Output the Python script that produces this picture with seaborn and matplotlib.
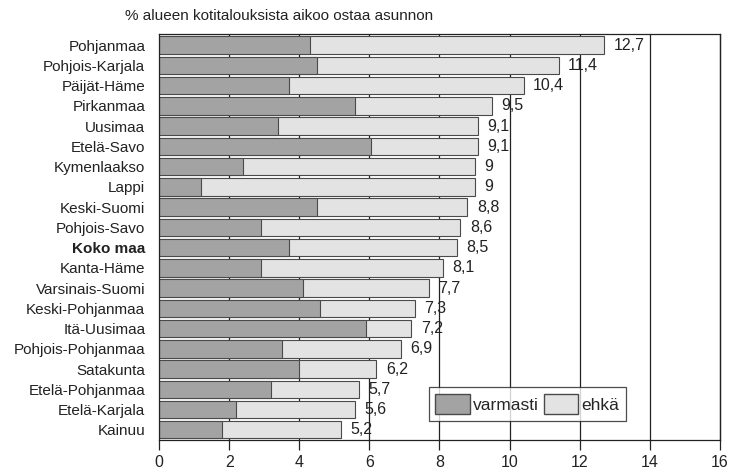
import matplotlib
matplotlib.use("Agg")
import matplotlib.pyplot as plt
from matplotlib.patches import Patch
import seaborn as sns
import pandas as pd

regions = ["Pohjanmaa", "Pohjois-Karjala", "Päijät-Häme", "Pirkanmaa", "Uusimaa",
           "Etelä-Savo", "Kymenlaakso", "Lappi", "Keski-Suomi", "Pohjois-Savo",
           "Koko maa", "Kanta-Häme", "Varsinais-Suomi", "Keski-Pohjanmaa",
           "Itä-Uusimaa", "Pohjois-Pohjanmaa", "Satakunta", "Etelä-Pohjanmaa",
           "Etelä-Karjala", "Kainuu"]
totals = [12.7, 11.4, 10.4, 9.5, 9.1, 9.1, 9.0, 9.0, 8.8, 8.6,
          8.5, 8.1, 7.7, 7.3, 7.2, 6.9, 6.2, 5.7, 5.6, 5.2]
varmasti = [4.3, 4.5, 3.7, 5.6, 3.4, 6.05, 2.4, 1.2, 4.5, 2.9,
            3.7, 2.9, 4.1, 4.6, 5.9, 3.5, 4.0, 3.2, 2.2, 1.8]
x_ticks = [0, 2, 4, 6, 8, 10, 12, 14, 16]
title = "% alueen kotitalouksista aikoo ostaa asunnon"

df = pd.DataFrame({"alue": regions, "yhteensä": totals, "varmasti": varmasti})

sns.set_theme(style="white")
plt.rcParams["font.family"] = ["Liberation Sans", "DejaVu Sans"]

dark = "#a3a3a3"
light = "#e3e3e3"
edge = "#4a4a4a"
ink = "#222222"

fig = plt.figure(figsize=(7.30, 4.72), dpi=100)
ax = fig.add_axes([0.218, 0.068, 0.768, 0.86])

ax.set_axisbelow(True)
for t in x_ticks[1:]:
    ax.axvline(t, color=ink, lw=0.9, zorder=0, clip_on=False)

sns.barplot(data=df, y="alue", x="yhteensä", orient="h", color=light,
            edgecolor=edge, linewidth=0.8, width=0.86, saturation=1, ax=ax)
sns.barplot(data=df, y="alue", x="varmasti", orient="h", color=dark,
            edgecolor=edge, linewidth=0.8, width=0.86, saturation=1, ax=ax)

for i, v in enumerate(totals):
    s = f"{v:g}".replace(".", ",")
    ax.text(v + 0.27, i, s, va="center", ha="left", fontsize=11.5, color=ink)

ax.set_xlim(0, 16)
ax.set_ylim(len(regions) - 0.5, -0.55)
ax.set_xticks(x_ticks)
ax.set_xticklabels([str(t) for t in x_ticks], fontsize=11.5, color=ink)
ax.tick_params(axis="x", direction="out", length=7, width=0.9,
               color=ink, pad=4, bottom=True)
ax.tick_params(axis="y", length=0, pad=10, labelsize=11, labelcolor=ink)
for lbl in ax.get_yticklabels():
    if lbl.get_text() == "Koko maa":
        lbl.set_fontweight("bold")
ax.set_xlabel("")
ax.set_ylabel("")

for side in ["left", "bottom", "top", "right"]:
    ax.spines[side].set_visible(True)
    ax.spines[side].set_color(ink)
    ax.spines[side].set_linewidth(0.9)

fig.text(0.171, 0.966, title, fontsize=11, color=ink, va="center", ha="left")

handles = [Patch(facecolor=dark, edgecolor=edge, label="varmasti"),
           Patch(facecolor=light, edgecolor=edge, label="ehkä")]
leg = ax.legend(handles=handles, loc="lower left",
                bbox_to_anchor=(0.465, 0.025, 0.383, 0.091), mode="expand",
                ncol=2, frameon=True, fancybox=False, fontsize=12.5,
                handlelength=2.0, handleheight=1.45, handletextpad=0.15,
                borderpad=0.4, columnspacing=1.0)
leg.get_frame().set_edgecolor(ink)
leg.get_frame().set_linewidth(0.9)

fig.savefig("out.png", dpi=100, facecolor="white")
